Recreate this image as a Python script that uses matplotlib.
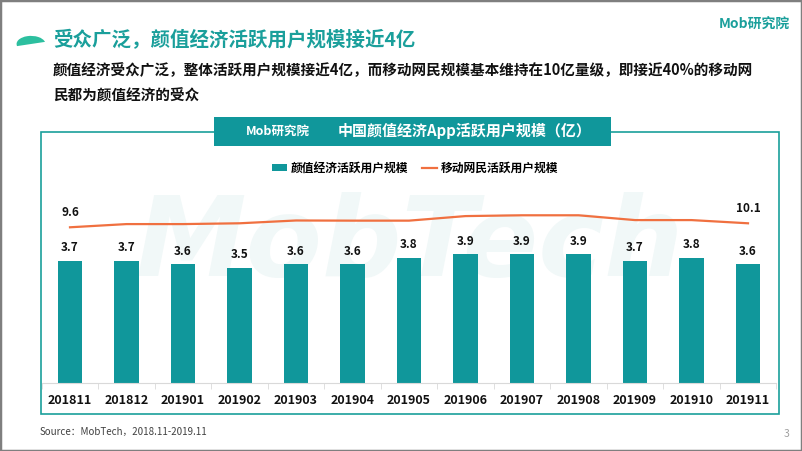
import numpy as np
import matplotlib
matplotlib.use("Agg")
from matplotlib import pyplot as plt
from matplotlib.patches import Rectangle, Wedge, Patch
from matplotlib.lines import Line2D

plt.rcParams['font.family'] = ['Noto Sans CJK SC', 'DejaVu Sans']

MONTHS = ['201811', '201812', '201901', '201902', '201903', '201904', '201905',
          '201906', '201907', '201908', '201909', '201910', '201911']
BEAUTY_USERS = [3.7, 3.7, 3.6, 3.5, 3.6, 3.6, 3.8, 3.9, 3.9, 3.9, 3.7, 3.8, 3.6]
MOBILE_USERS = [9.6, 10.0, 10.0, 10.1, 10.45, 10.43, 10.43, 11.0, 11.1, 11.1, 10.5, 10.5, 10.1]
LINE_LABEL_IDX = [0, 12]

TEAL = '#10979b'
TITLE_TEAL = '#1a9f9b'
ORANGE = '#f07040'

W, H = 802, 451


def px_box(x0, y0, x1, y1):
    """Pixel box (top-left origin) -> figure fraction [left, bottom, width, height]."""
    return [x0 / W, (H - y1) / H, (x1 - x0) / W, (y1 - y0) / H]


def main():
    fig = plt.figure(figsize=(W / 100, H / 100), dpi=100)
    fig.patch.set_facecolor('white')

    # slide border
    fig.patches.append(Rectangle((0, 0), 1, 1, transform=fig.transFigure, fill=False,
                                 ec='#7f7f7f', lw=2.5, zorder=10))

    # heading decoration + texts
    fig.patches.append(Wedge((31 / W, (H - 44) / H), 0.018, 15, 195, transform=fig.transFigure,
                             fc='#2cbf9f', ec='none'))
    fig.text(53 / W, (H - 40) / H, '受众广泛，颜值经济活跃用户规模接近4亿', fontsize=14,
             fontweight='bold', color=TITLE_TEAL, va='center', ha='left')
    fig.text(53 / W, (H - 70) / H,
             '颜值经济受众广泛，整体活跃用户规模接近4亿，而移动网民规模基本维持在10亿量级，即接近40%的移动网',
             fontsize=10.5, fontweight='bold', color='#111111', va='center', ha='left')
    fig.text(53 / W, (H - 96) / H, '民都为颜值经济的受众', fontsize=10.5, fontweight='bold',
             color='#111111', va='center', ha='left')
    fig.text(790 / W, (H - 25) / H, 'Mob研究院', fontsize=10, fontweight='bold', style='italic',
             color=TITLE_TEAL, va='center', ha='right')

    # faint watermark behind the chart
    fig.text(410 / W, (H - 245) / H, 'MobTech', fontsize=80, fontweight='bold', style='italic',
             family='DejaVu Sans', color='#f1f8f8', va='center', ha='center', zorder=-5)

    # chart frame and title bar
    fig.patches.append(Rectangle(px_box(40.7, 132, 779, 413.5)[:2], (779 - 40.7) / W,
                                 (413.5 - 132) / H, transform=fig.transFigure, fill=False,
                                 ec=TITLE_TEAL, lw=1.2))
    b = px_box(214, 117, 611, 146)
    fig.patches.append(Rectangle(b[:2], b[2], b[3], transform=fig.transFigure, fc=TEAL,
                                 ec='none', zorder=3))
    fig.text(278 / W, (H - 131) / H, 'Mob研究院', fontsize=9, fontweight='bold', style='italic',
             color='white', va='center', ha='center', zorder=4)
    fig.text(465 / W, (H - 131) / H, '中国颜值经济App活跃用户规模（亿）', fontsize=10.8,
             fontweight='bold', color='white', va='center', ha='center', zorder=4)

    ax = fig.add_axes(px_box(41.75, 190, 776.25, 383))
    ax.set_zorder(1)
    ax.patch.set_alpha(0)
    x = np.arange(len(MONTHS))
    ax.bar(x, BEAUTY_USERS, width=0.44, color=TEAL, zorder=2)
    for xi, v in zip(x, BEAUTY_USERS):
        ax.annotate(f'{v:.1f}', (xi, v), xytext=(0, 9.5), textcoords='offset points',
                    ha='center', va='center', fontsize=8.5, fontweight='bold', color='#111111')
    ax.set_xlim(-0.5, len(MONTHS) - 0.5)
    ax.set_ylim(0, 5.85)
    ax.set_yticks([])
    for s in ['top', 'left', 'right']:
        ax.spines[s].set_visible(False)
    ax.spines['bottom'].set_color('#d9d9d9')
    ax.set_xticks(x)
    ax.set_xticklabels(MONTHS, fontsize=9, fontweight='bold', color='#111111')
    ax.tick_params(axis='x', length=0, pad=8)
    ax.set_xticks(np.arange(-0.5, len(MONTHS)), minor=True)
    ax.tick_params(axis='x', which='minor', length=4, color='#d9d9d9')

    ax2 = ax.twinx()
    ax2.set_zorder(2)
    ax2.patch.set_alpha(0)
    ax2.plot(x, MOBILE_USERS, color=ORANGE, lw=1.6, zorder=3)
    ax2.set_ylim(-9.86, 14.26)
    ax2.set_yticks([])
    for s in ax2.spines.values():
        s.set_visible(False)
    for i in LINE_LABEL_IDX:
        ax2.annotate(f'{MOBILE_USERS[i]:.1f}', (x[i], MOBILE_USERS[i]), xytext=(0, 11),
                     textcoords='offset points', ha='center', va='center', fontsize=8.5,
                     fontweight='bold', color='#111111')

    handles = [Patch(fc=TEAL, ec='none'), Line2D([], [], color=ORANGE, lw=1.6)]
    fig.legend(handles, ['颜值经济活跃用户规模', '移动网民活跃用户规模'], loc='center',
               bbox_to_anchor=(415 / W, (H - 168) / H), ncol=2, frameon=False,
               prop={'size': 8.5, 'weight': 'bold'}, handlelength=1.3, handleheight=0.6,
               columnspacing=1.2, handletextpad=0.3)

    fig.text(40 / W, (H - 432) / H, 'Source：MobTech，2018.11-2019.11', fontsize=7,
             color='#404040', va='center', ha='left')
    fig.text(787 / W, (H - 434) / H, '3', fontsize=7.5, color='#a0a0a0', va='center', ha='center')

    fig.savefig('out.png', dpi=100)


if __name__ == '__main__':
    main()
